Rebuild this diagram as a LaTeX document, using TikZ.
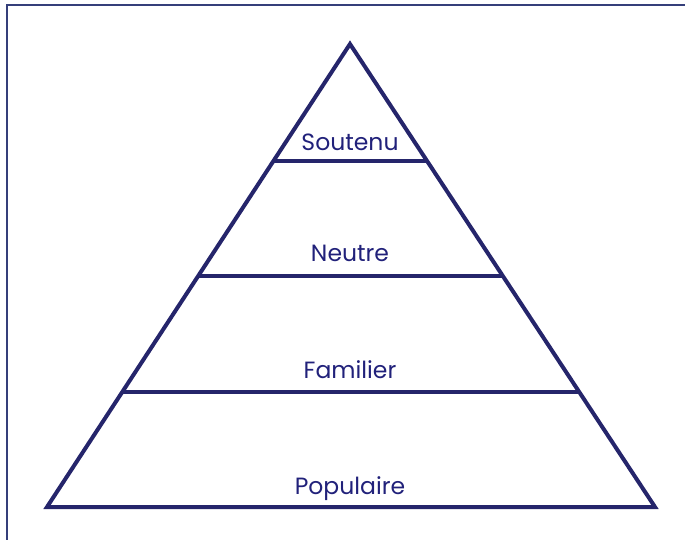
\documentclass[tikz,border=0pt]{standalone}
\usepackage{fontspec}
\setmainfont{Poppins}
\definecolor{navy}{HTML}{25256B}
\definecolor{frame}{HTML}{353F7A}
\begin{document}
\begin{tikzpicture}[x=1pt,y=-1pt,
  lvl/.style={font=\fontsize{23.5}{28}\selectfont, text=navy!90!blue, inner sep=0pt, anchor=base},
  edge/.style={draw=navy, line width=4pt, line join=miter}]
\useasboundingbox (0,0) rectangle (685,540);
\draw[frame, line width=2pt] (6.5,541) -- (6.5,5.2) -- (686,5.2);
\coordinate (apex) at (350,44);
\coordinate (bl) at (47,507);
\coordinate (br) at (655,507);
\coordinate (l1) at (273.4,161); \coordinate (r1) at (426.6,161);
\coordinate (l2) at (198.2,276); \coordinate (r2) at (501.8,276);
\coordinate (l3) at (122.3,392); \coordinate (r3) at (577.7,392);
\draw[edge] (apex) -- (br) -- (bl) -- cycle;
\draw[edge] (l1) -- (r1);
\draw[edge] (l2) -- (r2);
\draw[edge] (l3) -- (r3);
\node[lvl] (t1) at (350,151) {Soutenu};
\node[lvl] (t2) at (350,261) {Neutre};
\node[lvl] (t3) at (350,378) {Familier};
\node[lvl] (t4) at (350,494) {Populaire};
\end{tikzpicture}
\end{document}
